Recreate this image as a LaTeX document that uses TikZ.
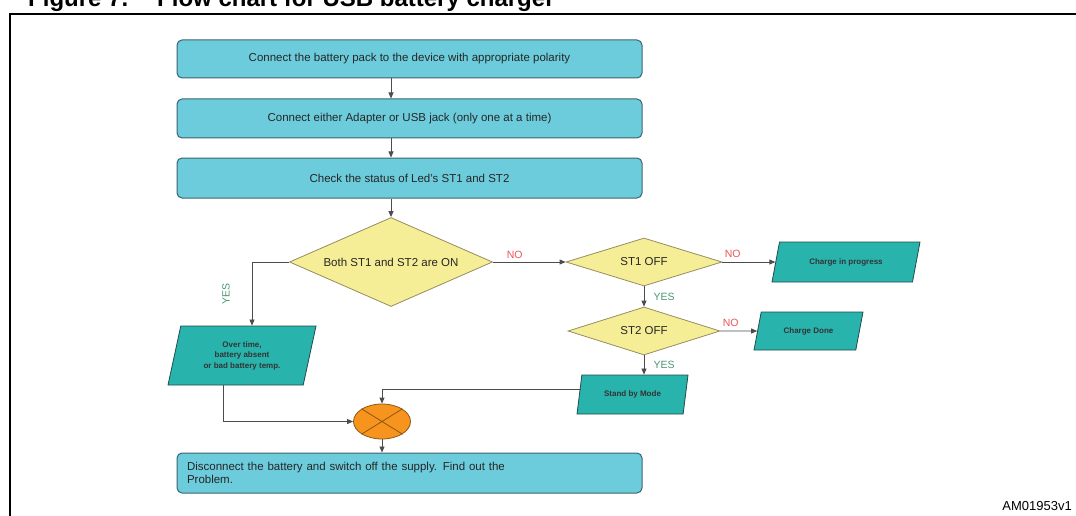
\documentclass[tikz,border=0pt]{standalone}
\usepackage{fontspec}
\setmainfont{Liberation Sans}
\usetikzlibrary{positioning,arrows.meta,calc,shapes.geometric}
\definecolor{BoxCyan}{RGB}{108,204,220}
\definecolor{BoxEdge}{RGB}{60,100,110}
\definecolor{DecYellow}{RGB}{246,238,150}
\definecolor{DecEdge}{RGB}{150,140,95}
\definecolor{IoTeal}{RGB}{40,180,172}
\definecolor{IoEdge}{RGB}{35,75,75}
\definecolor{JoinOrange}{RGB}{247,148,30}
\definecolor{JoinEdge}{RGB}{140,85,20}
\definecolor{NoRed}{RGB}{232,85,85}
\definecolor{YesGreen}{RGB}{75,150,115}
\tikzset{
  stepbox/.style={rectangle, rounded corners=5pt, draw=BoxEdge, line width=1pt, fill=BoxCyan,
    minimum width=465pt, minimum height=39pt, font=\fontsize{11.5}{12.5}\selectfont, text=black!85},
  dec/.style={diamond, draw=DecEdge, line width=0.8pt, fill=DecYellow, inner sep=0pt,
    aspect=2.5, font=\fontsize{11.5}{13}\selectfont, text=black!85},
  io/.style 2 args={trapezium, trapezium left angle=#1, trapezium right angle=#2,
    trapezium stretches body=true, draw=IoEdge, line width=0.8pt, fill=IoTeal, align=center,
    font=\bfseries\fontsize{8}{10.5}\selectfont, text=black!80},
  joinpt/.style={ellipse, draw=JoinEdge, line width=0.8pt, fill=JoinOrange,
    minimum width=57pt, minimum height=35pt},
  arrow/.style={-{Triangle[length=6pt,width=5pt]}, line width=0.8pt, draw=black!70},
  nolbl/.style={text=NoRed, font=\fontsize{10.5}{12}\selectfont},
  yeslbl/.style={text=YesGreen, font=\fontsize{10.5}{12}\selectfont}
}

\begin{document}
\begin{tikzpicture}[x=1pt,y=-1pt]
  \useasboundingbox (0,0) rectangle (1076,516);
  % frame and caption
  \draw[line width=2pt] (10,540) -- (10,14) -- (1100,14);
  \node[anchor=base west, inner sep=0pt, font=\bfseries\fontsize{24}{28}\selectfont] (fig) at (28,7) {Figure 7.};
  \node[anchor=base west, inner sep=0pt, font=\bfseries\fontsize{24}{28}\selectfont] (cap) at (157,7) {Flow chart for USB battery charger};
  \node[anchor=base east, inner sep=0pt, font=\fontsize{13}{15}\selectfont] (ref) at (1072,510) {AM01953v1};

  % main column
  \node[stepbox, minimum height=38pt] (b1) at (409.5,59) {Connect the battery pack to the device with appropriate polarity};
  \node[stepbox] (b2) at (409.5,118.5) {Connect either Adapter or USB jack (only one at a time)};
  \node[stepbox, minimum height=40pt] (b3) at (409.5,178) {Check the status of Led's ST1 and ST2};
  \node[dec, minimum width=203pt, minimum height=89pt] (d1) at (391,262) {Both ST1 and ST2 are ON};
  \node[dec, minimum width=156pt, minimum height=48pt, aspect=3.2] (d2) at (644,262) {ST1 OFF};
  \node[dec, minimum width=152pt, minimum height=48pt, aspect=3.2] (d3) at (644,331) {ST2 OFF};

  % outputs
  \node[io={62}{118}, minimum width=148pt, minimum height=40pt] (cip) at (846,262) {Charge in progress};
  \node[io={63}{117}, minimum width=109pt, minimum height=38pt] (cd) at (808.5,331) {Charge Done};
  \node[io={71}{109}, minimum width=111pt, minimum height=39pt] (sbm) at (632.5,394.5) {Stand by Mode};
  \node[io={70}{110}, minimum width=148pt, minimum height=59pt] (ov) at (242,355.5) {Over time,\\battery absent\\or bad battery temp.};

  \node[joinpt] (jn) at (382,421.5) {};
  \draw[line width=0.8pt, draw=JoinEdge] (jn.north west) -- (jn.south east) (jn.north east) -- (jn.south west);
  \node[stepbox, minimum height=40pt, align=left, text width=445pt] (b4) at (409.5,473) {Disconnect the battery and switch off the supply. Find out the\\Problem.};

  \draw[arrow] (b1.south -| d1) -- (b2.north -| d1);
  \draw[arrow] (b2.south -| d1) -- (b3.north -| d1);
  \draw[arrow] (b3.south -| d1) -- (d1.north);
  \draw[arrow] (d1.east) -- node[nolbl, pos=0.3, above] {NO} (d2.west);
  \draw[arrow] (d2.east) -- node[nolbl, pos=0, anchor=south west, inner sep=2pt, yshift=2pt] {NO} (cip.west);
  \draw[arrow] (d2.south) -- node[yeslbl, right, xshift=6pt] {YES} (d3.north);
  \draw[arrow] (d3.east) -- node[nolbl, pos=0, anchor=south west, inner sep=2pt, yshift=2pt] {NO} (cd.west);
  \draw[arrow] (d3.south) -- node[yeslbl, right, xshift=6pt] {YES} (d3.south |- sbm.north);
  \draw[arrow] (d1.west) -| node[yeslbl, pos=0.75, xshift=-26pt, rotate=90] {YES} ([xshift=10pt]ov.north);
  \draw[arrow] ([xshift=-19pt]ov.south) |- (jn.west);
  \draw[arrow] ([shift={(2pt,5pt)}]sbm.west) -| (jn.north);
  \draw[arrow] (jn.south) -- (b4.north -| jn);
\end{tikzpicture}
\end{document}
